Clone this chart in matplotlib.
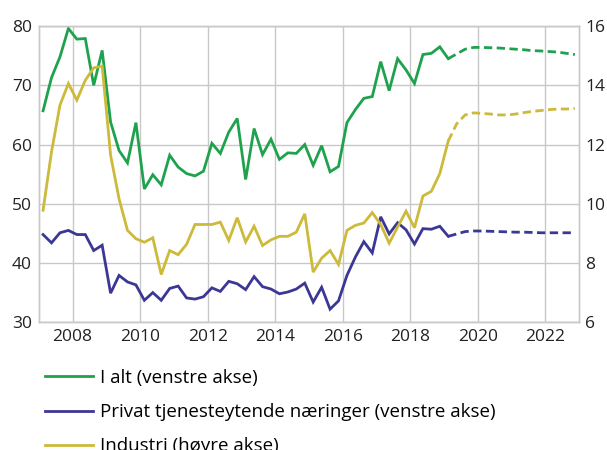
import numpy as np
import matplotlib
matplotlib.use("Agg")
import matplotlib.pyplot as plt

plt.rcParams['font.family'] = ['Open Sans', 'DejaVu Sans']

# quarterly, 2007Q1 .. 2019Q1 actual, 2019Q1 .. 2022Q4 forecast
start_year = 2007
n_actual = 49

i_alt = [65.7, 71.3, 74.8, 79.6, 77.8, 77.9, 70.0, 75.9, 63.8, 59.0, 56.9, 63.7,
         52.5, 54.9, 53.2, 58.2, 56.2, 55.1, 54.7, 55.5, 60.2, 58.5, 62.1, 64.4,
         54.1, 62.7, 58.3, 60.9, 57.5, 58.6, 58.5, 60.0, 56.5, 59.8, 55.4, 56.3,
         63.7, 65.9, 67.8, 68.1, 74.0, 69.1, 74.5, 72.6, 70.3, 75.2, 75.4, 76.5,
         74.5,
         75.3, 76.1, 76.4, 76.4, 76.35, 76.3, 76.2, 76.1, 76.0, 75.85, 75.8, 75.7,
         75.6, 75.4, 75.2]

privat = [44.8, 43.4, 45.1, 45.5, 44.8, 44.8, 42.1, 43.0, 34.9, 37.9, 36.8, 36.3,
          33.7, 35.0, 33.7, 35.7, 36.1, 34.1, 33.9, 34.3, 35.8, 35.2, 36.9, 36.5,
          35.5, 37.7, 36.0, 35.6, 34.8, 35.1, 35.6, 36.6, 33.4, 35.9, 32.2, 33.6,
          37.9, 41.0, 43.6, 41.7, 47.8, 44.9, 46.8, 45.6, 43.2, 45.8, 45.7, 46.2,
          44.5,
          44.9, 45.3, 45.4, 45.4, 45.35, 45.3, 45.25, 45.2, 45.2, 45.15, 45.1, 45.1,
          45.1, 45.1, 45.1]

industri = [9.78, 11.75, 13.33, 14.06, 13.50, 14.17, 14.59, 14.65, 11.64, 10.17, 9.10, 8.82,
            8.70, 8.85, 7.61, 8.42, 8.28, 8.63, 9.30, 9.30, 9.30, 9.38, 8.76, 9.53,
            8.71, 9.24, 8.59, 8.78, 8.90, 8.90, 9.04, 9.66, 7.69, 8.16, 8.42, 7.95,
            9.10, 9.27, 9.35, 9.70, 9.30, 8.67, 9.21, 9.75, 9.19, 10.26, 10.42, 11.02,
            12.12,
            12.70, 13.00, 13.07, 13.05, 13.03, 13.00, 13.00, 13.03, 13.08, 13.12, 13.15, 13.18,
            13.20, 13.20, 13.22]

labels = ["I alt (venstre akse)",
          "Privat tjenesteytende næringer (venstre akse)",
          "Industri (høyre akse)"]
colors = ["#1fa24e", "#3b3795", "#cdb93a"]

x = start_year + 0.125 + 0.25 * np.arange(len(i_alt))

fig = plt.figure(figsize=(6.07, 4.5), dpi=100)
ax = fig.add_axes([0.064, 0.284, 0.890, 0.658])
ax2 = ax.twinx()

grid_c = "#c8c8c8"
lw = 2.0
dash = (3.0, 1.6)

a = n_actual
for series, col, axis in [(i_alt, colors[0], ax), (privat, colors[1], ax), (industri, colors[2], ax2)]:
    axis.plot(x[:a], series[:a], color=col, lw=lw, solid_joinstyle='miter')
    axis.plot(x[a - 1:], series[a - 1:], color=col, lw=lw, dashes=dash)

ax.set_xlim(2007, 2023)
ax.set_ylim(30, 80)
ax2.set_ylim(6, 16)
ax.set_yticks(range(30, 81, 10))
ax2.set_yticks(range(6, 17, 2))
ax.set_xticks(range(2008, 2023, 2))

ax.grid(True, color=grid_c, lw=1)
ax.set_axisbelow(True)
for axis in (ax, ax2):
    for s in axis.spines.values():
        s.set_color(grid_c)
        s.set_linewidth(1)
    axis.tick_params(length=0, labelsize=12.5, colors="#222222")
ax.tick_params(axis='y', pad=5)
ax.tick_params(axis='x', pad=5)
ax2.tick_params(axis='y', pad=4.5)

handles = [plt.Line2D([], [], color=c, lw=lw) for c in colors]
fig.legend(handles, labels, loc='upper left', bbox_to_anchor=(0.074, 0.18),
           frameon=False, fontsize=13.5, handlelength=2.56, handletextpad=0.37,
           labelspacing=0.86, borderaxespad=0, borderpad=0)

fig.savefig("out.png", dpi=100)
